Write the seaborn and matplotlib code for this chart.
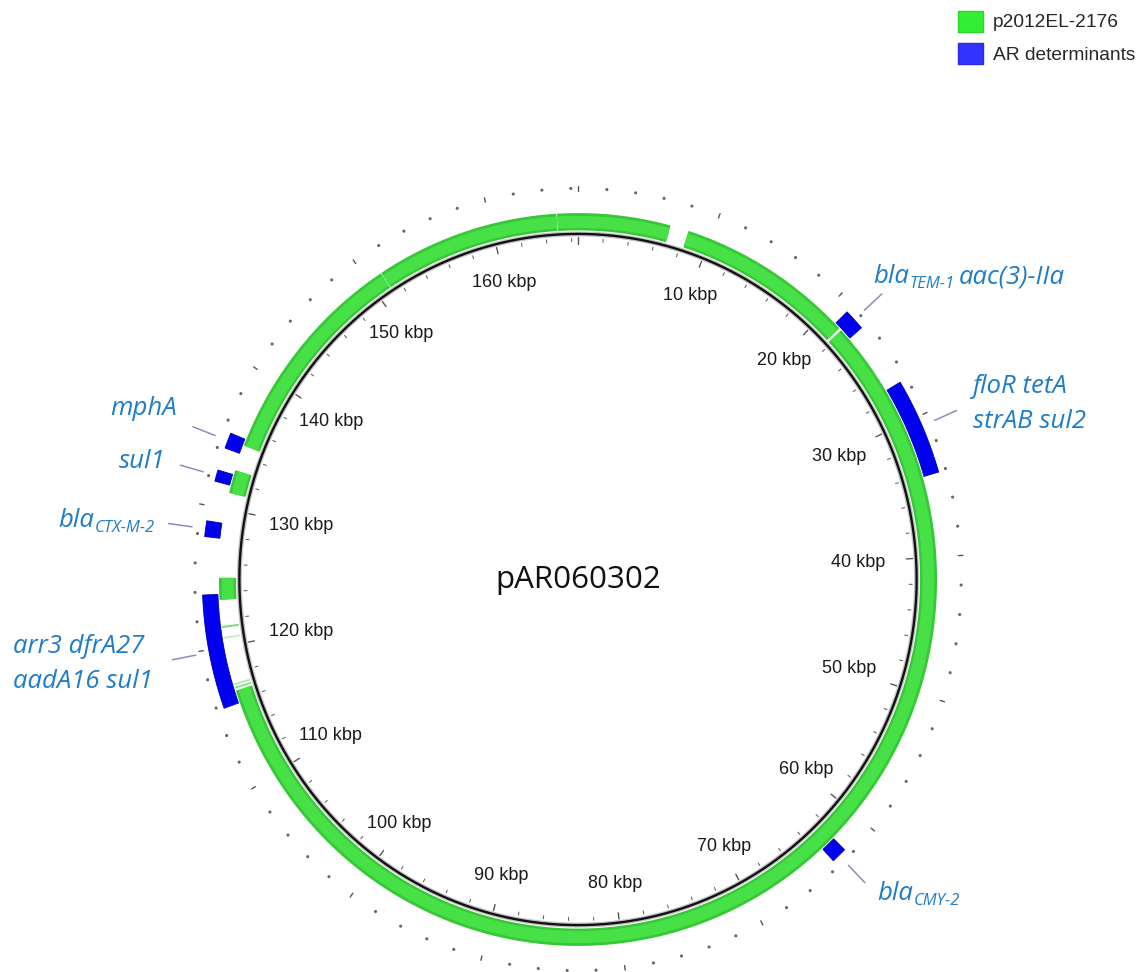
import numpy as np
import pandas as pd
import matplotlib
matplotlib.use("Agg")
import matplotlib.pyplot as plt
from matplotlib.patches import Patch
import seaborn as sns

# plasmid size and ring contents (kbp)
PLASMID_KBP = 166.5

# p2012EL-2176 blast hits (full identity)
hit_start = [0.0, 8.3, 21.8, 123.4, 131.2, 134.8, 151.15, 164.95]
hit_end = [6.9, 21.6, 116.7, 125.0, 132.9, 151.1, 164.9, 166.5]
# weak / partial hits
weak_start = [116.85, 117.1, 120.55, 121.35]
weak_end = [117.0, 117.25, 120.7, 121.5]
weak_color = ["#8fe08f", "#b5ecb5", "#c6f0c6", "#7fd97f"]

# AR determinants
ar_names = ["blaTEM-1 aac(3)-IIa", "floR tetA strAB sul2", "blaCMY-2",
            "arr3 dfrA27 aadA16 sul1", "blaCTX-M-2", "sul1", "mphA"]
ar_start = [21.15, 27.3, 62.35, 115.8, 127.85, 131.75, 134.15]
ar_end = [22.65, 34.1, 63.45, 123.8, 128.95, 132.55, 135.25]

tick_labels = list(range(10, 170, 10))

# gene label text: lines of (text, subscript?) pieces
ar_label_lines = [
    [[("bla", False), ("TEM-1", True), ("aac(3)-IIa", False)]],
    [[("floR tetA", False)], [("strAB sul2", False)]],
    [[("bla", False), ("CMY-2", True)]],
    [[("arr3 dfrA27", False)], [("aadA16 sul1", False)]],
    [[("bla", False), ("CTX-M-2", True)]],
    [[("sul1", False)]],
    [[("mphA", False)]],
]
# layout: (x, first baseline, alignment) in pixels
ar_label_pos = [(873, 283, "left"), (973, 393, "left"), (877, 900, "left"),
                (13, 653, "left"), (58, 527, "left"), (165, 468, "right"),
                (177, 415, "right")]

CX, CY, RX, RY = 578, 579.5, 340, 347
GENE_BLUE = "#1f7cc7"


def pos(kbp, r):
    th = np.deg2rad(np.asarray(kbp, dtype=float) / PLASMID_KBP * 360.0)
    r = np.asarray(r, dtype=float)
    return CX + RX * r * np.sin(th), CY - RY * r * np.cos(th)


def band(ax, s, e, r0, r1, **kw):
    k = np.linspace(s, e, max(int((e - s) * 10), 2) + 1)
    x0, y0 = pos(k, r0)
    x1, y1 = pos(k[::-1], r1)
    ax.fill(np.r_[x0, x1], np.r_[y0, y1], **kw)


sns.set_theme(style="white")
plt.rcParams["font.family"] = ["Liberation Sans", "DejaVu Sans"]

fig = plt.figure(figsize=(11.42, 9.72), dpi=100)
ax = fig.add_axes([0, 0, 1, 1])
ax.set_xlim(0, 1142)
ax.set_ylim(972, 0)
ax.axis("off")

# backbone circle
full = np.linspace(0, PLASMID_KBP, 1200)
bx, by = pos(full, 0.996)
ax.plot(bx, by, color="#9a9a9a", lw=3.6, alpha=0.6, solid_capstyle="butt")
ax.plot(bx, by, color="#111111", lw=1.7)

# inner ticks every 2 kbp, major every 10 kbp
for k in np.arange(0, PLASMID_KBP, 2):
    major = k % 10 == 0
    r0, r1 = (0.968, 0.986) if major else (0.974, 0.983)
    x, y = pos([k, k], [r0, r1])
    ax.plot(x, y, color="#555555", lw=1.0 if major else 0.7)

# green ring
for s, e in zip(hit_start, hit_end):
    band(ax, s, e, 1.006, 1.056, color="#36c836", lw=0)
    band(ax, s, e, 1.013, 1.048, color="#47e047", lw=0)
for s, e, c in zip(weak_start, weak_end, weak_color):
    band(ax, s, e, 1.006, 1.056, color=c, lw=0)

# AR ring
for s, e in zip(ar_start, ar_end):
    band(ax, s, e, 1.06, 1.105, facecolor="#0000ee", edgecolor="#0000b0", lw=0.6)

# outer scale: dots every 2 kbp, short dashes every 10 kbp
minor = [k for k in np.arange(0, PLASMID_KBP, 2) if k % 10 != 0]
dx, dy = pos(minor, 1.127)
sns.scatterplot(data=pd.DataFrame({"x": dx, "y": dy}), x="x", y="y", ax=ax,
                s=5, color="#666666", edgecolor="none", legend=False)
for k in np.arange(0, PLASMID_KBP, 10):
    x, y = pos([k, k], [1.121, 1.134])
    ax.plot(x, y, color="#555555", lw=1.0)

# scale labels
for v in tick_labels:
    th = np.deg2rad(v / PLASMID_KBP * 360.0)
    d = 306 - 26 * abs(np.sin(th)) ** 4
    ax.text(CX + d * np.sin(th), CY - d * np.cos(th), f"{v} kbp",
            ha="center", va="center", fontsize=13, color="#1a1a1a")

ax.text(CX, CY, "pAR060302", ha="center", va="center", fontsize=22.5,
        color="#111111", family=["Open Sans", "DejaVu Sans"])

# connectors
for s, e in zip(ar_start, ar_end):
    x, y = pos([(s + e) / 2] * 2, [1.145, 1.215])
    ax.plot(x, y, color="#8c8cc4", lw=1.1)

# gene labels
gfont = dict(family=["Open Sans", "DejaVu Sans"], style="italic", color=GENE_BLUE)
for lines, (lx, ly, ha) in zip(ar_label_lines, ar_label_pos):
    for i, pieces in enumerate(lines):
        y = ly + i * 35
        first = ax.text(lx, y, pieces[0][0], ha=ha, va="baseline",
                        fontsize=18.5, **gfont)
        prev = first
        for txt, sub in pieces[1:]:
            if sub:
                prev = ax.annotate(txt, xy=(1, 0), xycoords=(prev, first),
                                   xytext=(0.5, -3), textcoords="offset pixels",
                                   ha="left", va="bottom", fontsize=12, **gfont)
            else:
                prev = ax.annotate(txt, xy=(1, 0), xycoords=(prev, first),
                                   xytext=(4, 0), textcoords="offset pixels",
                                   ha="left", va="bottom", fontsize=18.5, **gfont)

# legend
handles = [Patch(facecolor="#33ee33", edgecolor="#2ad82a"),
           Patch(facecolor="#3333ff", edgecolor="#2a2ae0")]
fig.legend(handles, ["p2012EL-2176", "AR determinants"], loc="upper right",
           bbox_to_anchor=(0.999, 0.995), frameon=False, fontsize=13.8,
           handlelength=1.32, handleheight=1.3, handletextpad=0.5,
           labelspacing=0.62, borderpad=0.3, borderaxespad=0.0)

fig.savefig("out.png", dpi=100)
